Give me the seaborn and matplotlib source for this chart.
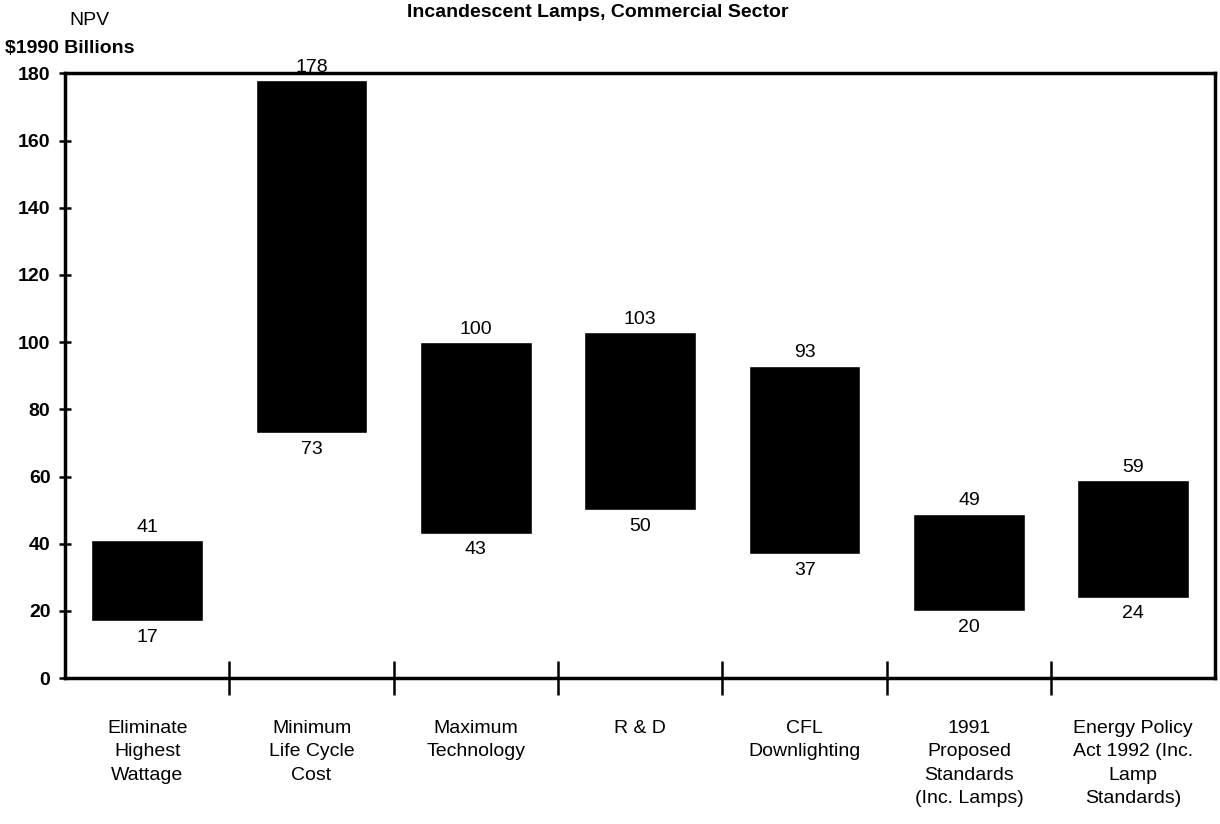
import matplotlib
matplotlib.use("Agg")
import numpy as np
import pandas as pd
import seaborn as sns
import matplotlib.pyplot as plt

# Data
categories = [
    "Eliminate\nHighest\nWattage",
    "Minimum\nLife Cycle\nCost",
    "Maximum\nTechnology",
    "R & D",
    "CFL\nDownlighting",
    "1991\nProposed\nStandards\n(Inc. Lamps)",
    "Energy Policy\nAct 1992 (Inc.\nLamp\nStandards)",
]
npv_low = [17, 73, 43, 50, 37, 20, 24]
npv_high = [41, 178, 100, 103, 93, 49, 59]
yticks = [0, 20, 40, 60, 80, 100, 120, 140, 160, 180]

df = pd.DataFrame({
    "option": categories,
    "low": npv_low,
    "high": npv_high,
})
df["span"] = df["high"] - df["low"]

sns.set_style("white")
plt.rcParams["font.family"] = ["Liberation Sans", "DejaVu Sans"]
plt.rcParams["text.color"] = "black"
plt.rcParams["xtick.color"] = "black"
plt.rcParams["ytick.color"] = "black"

fig = plt.figure(figsize=(12.2, 8.24), dpi=100)
ax = fig.add_axes([0.0533, 0.177, 0.943, 0.734])

sns.barplot(data=df, x="option", y="span", bottom=df["low"].to_numpy(),
            color="black", width=0.68, saturation=1, ax=ax)

fs = 14
for i, row in df.iterrows():
    ax.text(i, row["high"] + 1.3, str(row["high"]), ha="center", va="bottom",
            fontsize=fs)
    ax.text(i, row["low"] - 2.3, str(row["low"]), ha="center", va="top",
            fontsize=fs)

ax.set_ylim(0, 180)
ax.set_xlim(-0.5, len(categories) - 0.5)
ax.set_yticks(yticks)
ax.set_yticklabels([str(t) for t in yticks], fontsize=fs, fontweight="bold")
ax.set_xticks(range(len(categories)))
ax.set_xticklabels(categories, fontsize=fs, linespacing=1.5, va="top")
ax.tick_params(axis="x", which="major", length=0, pad=30)
ax.set_xticks(np.arange(0.5, len(categories) - 1, 1.0), minor=True)
ax.tick_params(axis="x", which="minor", bottom=True, direction="inout",
               length=24, width=1.8, color="black")
ax.tick_params(axis="y", which="major", left=True, direction="inout",
               length=9, width=1.8, color="black", pad=6)
ax.set_xlabel("")
ax.set_ylabel("")

for side in ["left", "right", "top", "bottom"]:
    ax.spines[side].set_visible(True)
    ax.spines[side].set_color("black")
    ax.spines[side].set_linewidth(2.5)

fig.text(0.057, 0.985, "NPV", ha="left", va="top", fontsize=fs)
fig.text(0.004, 0.952, "$1990 Billions", ha="left", va="top", fontsize=fs,
         fontweight="bold")
fig.text(0.49, 0.995, "Incandescent Lamps, Commercial Sector", ha="center",
         va="top", fontsize=fs, fontweight="bold")

fig.savefig("out.png", dpi=100)
